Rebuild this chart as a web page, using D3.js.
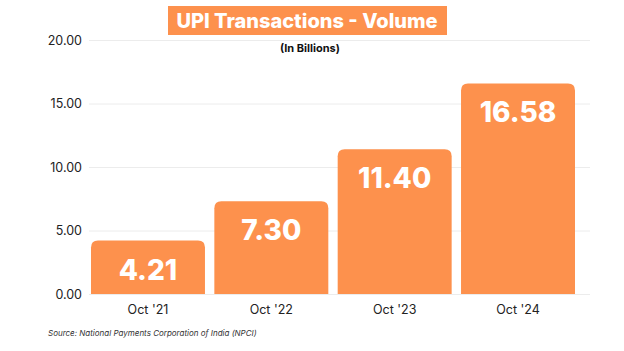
<!DOCTYPE html>
<html>
<head>
<meta charset="utf-8">
<script src="https://cdn.jsdelivr.net/npm/d3@7"></script>
<style>
  body { margin: 0; background: #fff; }
  text { font-family: Inter, "Open Sans", sans-serif; }
</style>
</head>
<body>
<div id="chart"></div>
<script>
const categories = ["Oct '21", "Oct '22", "Oct '23", "Oct '24"];
const volumes = [4.21, 7.30, 11.40, 16.58];
const yTicks = [0, 5, 10, 15, 20];

const w = 624;
const h = 351;
const margin = { top: 40, right: 49, bottom: 57, left: 91 };
const orange = "#fd914d";

const svg = d3.select("#chart")
    .append("svg")
    .attr("width", w)
    .attr("height", h);

const xScale = d3.scaleBand()
    .domain(categories)
    .range([margin.left, w - margin.right])
    .paddingInner(0.076)
    .paddingOuter(0);

const yScale = d3.scaleLinear()
    .domain([0, 20])
    .range([h - margin.bottom, margin.top]);

// gridlines + y labels
const gridLeft = 89;
const yAxis = d3.axisLeft(yScale)
    .tickValues(yTicks)
    .tickFormat(d3.format(".2f"))
    .tickSize(-(590 - gridLeft))
    .tickPadding(7);

const gy = svg.append("g")
    .attr("transform", `translate(${gridLeft}, 0)`)
    .call(yAxis);
gy.select(".domain").remove();
gy.selectAll(".tick line").attr("stroke", "#ececec").attr("stroke-width", 1);
gy.selectAll(".tick text")
    .attr("fill", "#222")
    .style("font-size", "12.5px")
    .style("font-family", "Inter, sans-serif");

// bars, rounded only on top
const r = 7;
function barPath(x, y, bw, bh) {
    return `M${x},${y + bh} V${y + r} Q${x},${y} ${x + r},${y} H${x + bw - r} Q${x + bw},${y} ${x + bw},${y + r} V${y + bh} Z`;
}

svg.selectAll("path.bar")
    .data(volumes)
    .enter()
    .append("path")
    .attr("class", "bar")
    .attr("fill", orange)
    .attr("d", (d, i) => barPath(xScale(categories[i]), yScale(d), xScale.bandwidth(), yScale(0) - yScale(d)));

svg.selectAll("text.val")
    .data(volumes)
    .enter()
    .append("text")
    .attr("class", "val")
    .attr("x", (d, i) => xScale(categories[i]) + xScale.bandwidth() / 2)
    .attr("y", (d) => yScale(d) + 39)
    .attr("text-anchor", "middle")
    .attr("fill", "#fff")
    .style("font-size", "28px")
    .style("font-weight", "800")
    .text((d) => d.toFixed(2));

// x axis labels
const xAxis = d3.axisBottom(xScale).tickSize(0).tickPadding(11);
const gx = svg.append("g")
    .attr("transform", `translate(0, ${yScale(0)})`)
    .call(xAxis);
gx.select(".domain").remove();
gx.selectAll(".tick text")
    .attr("fill", "#222")
    .style("font-size", "12.5px")
    .style("font-family", "Inter, sans-serif");

// title
svg.append("rect")
    .attr("x", 168)
    .attr("y", 6)
    .attr("width", 279)
    .attr("height", 29)
    .attr("fill", orange);

svg.append("text")
    .attr("x", 307)
    .attr("y", 28)
    .attr("text-anchor", "middle")
    .attr("fill", "#fff")
    .style("font-size", "20px")
    .style("font-weight", "800")
    .text("UPI Transactions - Volume");

svg.append("text")
    .attr("x", 310)
    .attr("y", 52)
    .attr("text-anchor", "middle")
    .attr("fill", "#111")
    .style("font-size", "11px")
    .style("font-weight", "700")
    .text("(In Billions)");

svg.append("text")
    .attr("x", 48)
    .attr("y", 336)
    .attr("fill", "#333")
    .style("font-size", "8px")
    .style("font-style", "italic")
    .text("Source: National Payments Corporation of India (NPCI)");
</script>
</body>
</html>
